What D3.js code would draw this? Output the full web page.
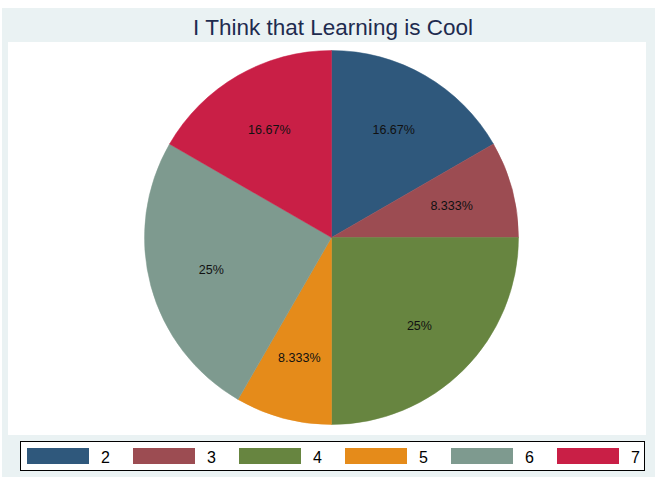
<!DOCTYPE html>
<html>
<head>
<meta charset="utf-8">
<script src="https://cdn.jsdelivr.net/npm/d3@7"></script>
<style>
  body { margin: 0; background: #fff; }
  text { font-family: "Liberation Sans", Arial, sans-serif; }
</style>
</head>
<body>
<svg width="655" height="477"></svg>
<script>
// data
var categories = ["2", "3", "4", "5", "6", "7"];
var counts = [2, 1, 3, 1, 3, 2];
var sliceLabels = ["16.67%", "8.333%", "25%", "8.333%", "25%", "16.67%"];
var colors = ["#2f587c", "#9c4c52", "#678540", "#e58b1a", "#7e9a8f", "#c91f46"];

var svg = d3.select("svg");

// outer background + plot region
svg.append("rect").attr("x", 2).attr("y", 8).attr("width", 653).attr("height", 469).attr("fill", "#eaf2f3");
svg.append("rect").attr("x", 8).attr("y", 42).attr("width", 638).attr("height", 393).attr("fill", "#fff");

svg.append("text")
    .attr("x", 333).attr("y", 35)
    .attr("text-anchor", "middle")
    .attr("font-size", 22.5)
    .attr("textLength", 280)
    .attr("fill", "#1e2b4f")
    .text("I Think that Learning is Cool");

var cx = 331.5, cy = 237.5, r = 187;

var pie = d3.pie().sort(null).value(function(d) { return d; });
var arc = d3.arc().innerRadius(0).outerRadius(r);
var labelArc = d3.arc().innerRadius(r * 0.665).outerRadius(r * 0.665);

var g = svg.append("g").attr("transform", "translate(" + cx + "," + cy + ")");
var arcs = pie(counts);

g.selectAll("path.slice")
    .data(arcs)
  .enter().append("path")
    .attr("class", "slice")
    .attr("d", arc)
    .attr("fill", function(d, i) { return colors[i]; })
    .attr("stroke", function(d, i) { return colors[i]; })
    .attr("stroke-width", 0.5);

g.selectAll("text.lbl")
    .data(arcs)
  .enter().append("text")
    .attr("class", "lbl")
    .attr("transform", function(d) { return "translate(" + labelArc.centroid(d) + ")"; })
    .attr("text-anchor", "middle")
    .attr("dy", "0.35em")
    .attr("font-size", 12.5)
    .attr("fill", "#111")
    .text(function(d, i) { return sliceLabels[i]; });

// legend
svg.append("rect").attr("x", 20.5).attr("y", 441.5).attr("width", 624).attr("height", 29)
    .attr("fill", "#fff").attr("stroke", "#000").attr("stroke-width", 1);

var lx = d3.scaleBand().domain(categories).range([27, 663]);

var leg = svg.selectAll("g.leg")
    .data(categories)
  .enter().append("g")
    .attr("class", "leg")
    .attr("transform", function(d) { return "translate(" + lx(d) + ",0)"; });

leg.append("rect")
    .attr("x", 0).attr("y", 448).attr("width", 62).attr("height", 16)
    .attr("fill", function(d, i) { return colors[i]; });

leg.append("text")
    .attr("x", 74).attr("y", 463)
    .attr("font-size", 16)
    .attr("fill", "#000")
    .text(function(d) { return d; });
</script>
</body>
</html>
